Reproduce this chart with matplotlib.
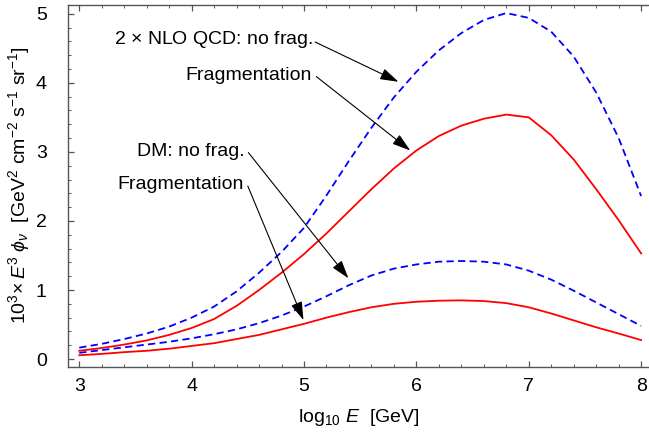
import matplotlib
matplotlib.use('Agg')
import matplotlib.pyplot as plt

plt.rcParams['font.family'] = ['Liberation Sans', 'DejaVu Sans']
plt.rcParams['mathtext.fontset'] = 'custom'
plt.rcParams['mathtext.rm'] = 'Liberation Sans'
plt.rcParams['mathtext.it'] = 'Liberation Sans:italic'
plt.rcParams['mathtext.bf'] = 'Liberation Sans:bold'

# log10 E [GeV]
logE = [3.0, 3.2, 3.4, 3.6, 3.8, 4.0, 4.2, 4.4, 4.6, 4.8, 5.0, 5.2, 5.4,
        5.6, 5.8, 6.0, 6.2, 6.4, 6.6, 6.8, 7.0, 7.2, 7.4, 7.6, 7.8, 8.0]

# 2 x NLO QCD, no fragmentation (blue dashed, upper)
qcd_nofrag = [0.165, 0.22, 0.29, 0.37, 0.47, 0.60, 0.76, 0.98, 1.25, 1.55,
              1.90, 2.37, 2.87, 3.35, 3.79, 4.16, 4.47, 4.72, 4.91, 5.01,
              4.94, 4.74, 4.38, 3.86, 3.20, 2.36]
# 2 x NLO QCD, fragmentation (red solid, upper)
qcd_frag = [0.12, 0.16, 0.21, 0.27, 0.35, 0.45, 0.58, 0.77, 1.00, 1.25,
            1.52, 1.82, 2.14, 2.46, 2.76, 3.02, 3.23, 3.38, 3.48, 3.54,
            3.50, 3.24, 2.89, 2.46, 2.01, 1.53]
# DM, no fragmentation (blue dashed, lower)
dm_nofrag = [0.09, 0.13, 0.17, 0.21, 0.25, 0.30, 0.36, 0.43, 0.52, 0.63,
             0.76, 0.91, 1.07, 1.21, 1.31, 1.37, 1.41, 1.42, 1.41, 1.37,
             1.28, 1.15, 0.99, 0.82, 0.65, 0.48]
# DM, fragmentation (red solid, lower)
dm_frag = [0.055, 0.075, 0.10, 0.12, 0.15, 0.19, 0.23, 0.29, 0.35, 0.43,
           0.51, 0.60, 0.68, 0.75, 0.80, 0.83, 0.845, 0.85, 0.84, 0.81,
           0.75, 0.66, 0.56, 0.46, 0.37, 0.275]

# labels: (text, text anchor (right, center), arrow start, arrow tip)
labels = [
    (r'2 $\times$ NLO QCD: no frag.', (5.08, 4.62), (5.10, 4.59), (5.84, 4.015)),
    ('Fragmentation', (5.07, 4.11), (5.11, 4.09), (5.945, 3.02)),
    ('DM: no frag.', (4.475, 3.00), (4.505, 2.99), (5.395, 1.17)),
    ('Fragmentation', (4.468, 2.53), (4.50, 2.505), (4.995, 0.565)),
]

fig = plt.figure(figsize=(6.49, 4.34), dpi=100)
ax = fig.add_axes([0.1043, 0.155, 0.8957, 0.834])

ax.plot(logE, qcd_nofrag, color='#0000ff', lw=1.3, dashes=(4, 2.4))
ax.plot(logE, qcd_frag, color='#ff0000', lw=1.3)
ax.plot(logE, dm_nofrag, color='#0000ff', lw=1.3, dashes=(4, 2.4))
ax.plot(logE, dm_frag, color='#ff0000', lw=1.3)

for txt, tpos, start, tip in labels:
    ax.text(tpos[0], tpos[1], txt, ha='right', va='center', fontsize=14)
    ax.annotate('', xy=tip, xytext=start,
                arrowprops=dict(arrowstyle='-|>,head_length=0.7,head_width=0.22',
                                color='black', lw=0.8,
                                mutation_scale=16, shrinkA=0, shrinkB=0))

ax.set_xlim(2.897, 8.07)
ax.set_ylim(-0.111, 5.13)
ax.set_xticks([3, 4, 5, 6, 7, 8])
ax.set_yticks([0, 1, 2, 3, 4, 5])
ax.set_xticks([x / 5 for x in range(15, 41)], minor=True)
ax.set_yticks([y / 5 for y in range(0, 26)], minor=True)

for side in ['left', 'bottom', 'top']:
    ax.spines[side].set_color('#555555')
    ax.spines[side].set_linewidth(1.0)
ax.spines['right'].set_visible(False)

ax.tick_params(which='both', direction='in', top=True, right=False,
               color='#555555', labelsize=14)
ax.tick_params(which='major', length=4, width=0.9)
ax.tick_params(which='minor', length=2.2, width=0.7)
ax.tick_params(axis='y', which='major', pad=15)
ax.tick_params(axis='x', which='major', pad=8)

ax.set_xlabel(r'log$_{10}$ $E$  [GeV]', fontsize=14)
ax.set_ylabel(r'$10^3\!\times E^3\ \phi_\nu$  [GeV$^2$ cm$^{-2}$ s$^{-1}$ sr$^{-1}$]',
              fontsize=14)
ax.yaxis.set_label_coords(-0.062, 0.502)
ax.xaxis.set_label_coords(0.5, -0.11)

plt.savefig('out.png', dpi=100)
